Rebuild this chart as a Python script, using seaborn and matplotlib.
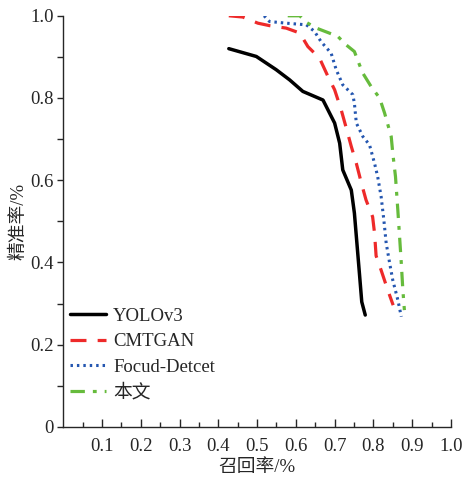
import matplotlib
matplotlib.use("Agg")
import matplotlib.pyplot as plt
import matplotlib.ticker as mticker
import seaborn as sns
import pandas as pd

# recall / precision
yolo_r = [0.427, 0.498, 0.549, 0.584, 0.618, 0.670, 0.700, 0.713, 0.721, 0.743, 0.751, 0.764, 0.770, 0.779]
yolo_p = [0.920, 0.901, 0.869, 0.844, 0.816, 0.795, 0.739, 0.690, 0.625, 0.576, 0.520, 0.373, 0.304, 0.272]

cmtgan_r = [0.427, 0.463, 0.502, 0.532, 0.575, 0.610, 0.631, 0.661, 0.683, 0.700, 0.717, 0.730,
            0.743, 0.756, 0.769, 0.781, 0.798, 0.803, 0.807, 0.820, 0.837, 0.851]
cmtgan_p = [1.000, 0.997, 0.982, 0.976, 0.970, 0.958, 0.925, 0.897, 0.852, 0.820, 0.771, 0.727,
            0.682, 0.641, 0.593, 0.552, 0.511, 0.471, 0.416, 0.381, 0.333, 0.296]

focud_r = [0.518, 0.532, 0.575, 0.627, 0.648, 0.665, 0.691, 0.704, 0.721, 0.747, 0.751, 0.756,
           0.773, 0.790, 0.803, 0.811, 0.820, 0.827, 0.833, 0.842, 0.850, 0.863, 0.872]
focud_p = [1.000, 0.986, 0.982, 0.978, 0.962, 0.937, 0.909, 0.869, 0.832, 0.808, 0.787, 0.739,
           0.706, 0.686, 0.641, 0.609, 0.560, 0.503, 0.447, 0.398, 0.357, 0.309, 0.268]

ours_r = [0.579, 0.610, 0.627, 0.653, 0.708, 0.730, 0.751, 0.764, 0.773, 0.794, 0.816, 0.829,
          0.846, 0.850, 0.857, 0.863, 0.867, 0.872, 0.876, 0.880]
ours_p = [1.000, 1.000, 0.984, 0.970, 0.950, 0.929, 0.913, 0.881, 0.860, 0.828, 0.800, 0.763,
          0.706, 0.666, 0.609, 0.528, 0.471, 0.398, 0.333, 0.284]

names = ["YOLOv3", "CMTGAN", "Focud-Detcet", "本文"]

sns.set_style("ticks")
plt.rcParams["font.family"] = ["Liberation Serif", "Noto Sans CJK SC"]
plt.rcParams["axes.linewidth"] = 1.0
fs = 13.5

fig = plt.figure(figsize=(4.62, 4.78), dpi=100)
ax = fig.add_axes([0.137, 0.107, 0.839, 0.860])

series = [
    (yolo_r, yolo_p, "black", "-", 2.5),
    (cmtgan_r, cmtgan_p, "#ee2a2a", (0, (5, 3.5)), 2.3),
    (focud_r, focud_p, "#2456b0", (0, (0.8, 1.3)), 2.2),
    (ours_r, ours_p, "#66bb3c", (0, (4.5, 2.5, 1.2, 2.5)), 2.3),
]
for name, (r, p, c, ls, lw) in zip(names, series):
    df = pd.DataFrame({"recall": r, "precision": p})
    sns.lineplot(data=df, x="recall", y="precision", ax=ax, color=c, linestyle=ls,
                 linewidth=lw, label=name, sort=False, estimator=None)

ax.set_xlim(0, 1.0)
ax.set_ylim(0, 1.0)
ax.set_xticks([0.1, 0.2, 0.3, 0.4, 0.5, 0.6, 0.7, 0.8, 0.9, 1.0])
ax.set_xticks([0.05, 0.15, 0.25, 0.35, 0.45, 0.55, 0.65, 0.75, 0.85, 0.95], minor=True)
ax.set_yticks([0, 0.2, 0.4, 0.6, 0.8, 1.0])
ax.set_yticks([0.1, 0.3, 0.5, 0.7, 0.9], minor=True)
ax.yaxis.set_major_formatter(mticker.FuncFormatter(lambda v, _: "0" if v == 0 else f"{v:.1f}"))
ax.xaxis.set_major_formatter(mticker.FormatStrFormatter("%.1f"))
ax.tick_params(axis="x", which="major", direction="in", length=6, width=1, labelsize=fs, pad=8)
ax.tick_params(axis="x", which="minor", direction="in", length=3.5, width=1)
ax.tick_params(axis="y", which="major", direction="out", length=4, width=1, labelsize=fs, pad=3)
ax.tick_params(axis="y", which="minor", direction="out", length=4, width=1)
sns.despine(ax=ax)

ax.set_xlabel("召回率/%", fontsize=fs, labelpad=3)
ax.set_ylabel("精准率/%", fontsize=fs, labelpad=2)

ax.legend(loc="upper left", bbox_to_anchor=(-0.012, 0.318), frameon=False, fontsize=fs,
          handlelength=1.9, handletextpad=0.4, labelspacing=0.45, borderaxespad=0.2)

fig.savefig("out.png", dpi=100)
